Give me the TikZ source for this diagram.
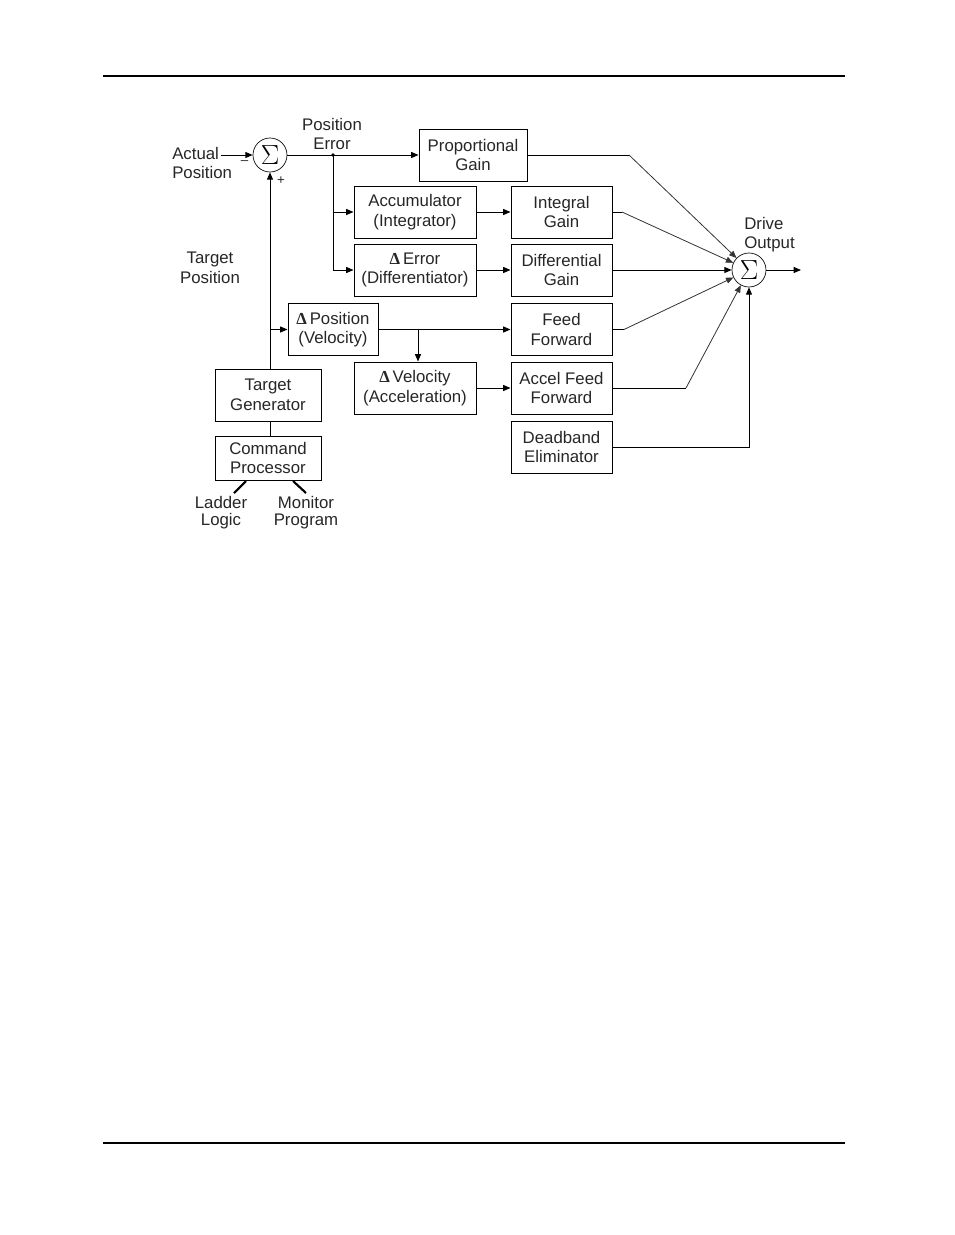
\documentclass[tikz,border=0pt]{standalone}
\usepackage{fontspec}
\setmainfont{Liberation Sans}
\newfontfamily\serifd{Liberation Serif}
\usetikzlibrary{arrows.meta}
\newcommand{\dlt}{{\serifd\bfseries Δ}}
\begin{document}
\begin{tikzpicture}[x=0.75pt,y=-0.75pt,
  txt/.style={font=\fontsize{12.6}{14.6}\selectfont, align=center, text=black!85, inner sep=0pt},
  blk/.style={draw, line width=0.75pt, inner sep=0pt, font=\fontsize{12.6}{14.6}\selectfont, align=center, text=black!85, minimum height=39pt},
  wA/.style={minimum width=75.75pt},
  wB/.style={minimum width=91.5pt},
  sumnode/.style={draw, circle, line width=0.5pt, minimum size=25.5pt, inner sep=0pt, font=\fontsize{20}{20}\selectfont},
  con/.style={line width=0.7pt},
  arr/.style={line width=0.7pt, -{Triangle[length=5.5pt,width=4.5pt]}},
  diag/.style={line width=0.6pt, black!80, -{Triangle[length=5.5pt,width=4.5pt]}},
  thk/.style={line width=1.6pt}
]
\useasboundingbox (0,0) rectangle (954,1235);
% page rules
\draw[line width=1.1pt] (103,76) -- (845,76);
\draw[line width=1.1pt] (103,1143) -- (845,1143);

% summing junctions
\node[sumnode] (s1) at (270,155) {$\Sigma$};
\node[sumnode] (s2) at (749,270) {$\Sigma$};

% boxes
\node[blk, minimum width=81pt] (PG) at (473,155) {Proportional\\Gain};
\node[blk, wB] (Acc) at (415,212) {Accumulator\\(Integrator)};
\node[blk, wB] (dErr) at (415,270) {\dlt\,Error\\(Differentiator)};
\node[blk, wA] (IG) at (561.5,212) {Integral\\Gain};
\node[blk, wA] (DG) at (561.5,270) {Differential\\Gain};
\node[blk, wA] (FF) at (561.5,329.5) {Feed\\Forward};
\node[blk, wA] (AFF) at (561.5,388) {Accel Feed\\Forward};
\node[blk, wA] (DE) at (561.5,447) {Deadband\\Eliminator};
\node[blk, minimum width=67.5pt] (dPos) at (333,329.5) {\dlt\,Position\\(Velocity)};
\node[blk, wB] (dVel) at (415,388) {\dlt\,Velocity\\(Acceleration)};
\node[blk, minimum width=79.5pt] (TG) at (268,395) {Target\\Generator};
\node[blk, minimum width=79.5pt, minimum height=33pt] (CP) at (268,458) {Command\\Processor};

% labels
\node[txt, align=left, anchor=west] (actual) at (172,163) {Actual\\Position};
\node[txt] (perr) at (332,134) {Position\\Error};
\node[txt] (tpos) at (210,268) {Target\\Position};
\node[txt, align=left, anchor=west] (drive) at (744,234.5) {Drive\\Output};
\node[txt, font=\fontsize{12.6}{12.8}\selectfont] (ladder) at (221,512.5) {Ladder\\Logic};
\node[txt, font=\fontsize{12.6}{12.8}\selectfont] (monitor) at (306,512.5) {Monitor\\Program};
\node[txt, font=\fontsize{10}{10}\selectfont] (minus) at (244.5,163) {\textendash};
\node[txt, font=\fontsize{10}{10}\selectfont] (plus) at (281,181) {+};

% coordinates
\coordinate (ain) at (221,155);
\coordinate (j1) at (333,155);
\coordinate (pgk) at (629,155);
\coordinate (igk) at (622,212);
\coordinate (ffk) at (624,329.5);
\coordinate (affk) at (686,388);
\coordinate (jt) at (270,329.5);
\coordinate (jv) at (418,329.5);
\coordinate (out) at (801,270);
\coordinate (cpl) at (246,481);
\coordinate (cpr) at (293,481);
\coordinate (lle) at (234,493);
\coordinate (mpe) at (306,493);

% connectors
\draw[arr] (ain) -- (s1.west);
\draw[arr] (s1.east) -- (PG.west);
\fill (j1) circle (1.4pt);
\draw[arr] (j1) |- (Acc.west);
\draw[arr] (j1) |- (dErr.west);
\draw[arr] (Acc.east) -- (IG.west);
\draw[arr] (dErr.east) -- (DG.west);

\draw[con] (PG.east) -- (pgk);
\draw[diag] (pgk) -- (s2);
\draw[con] (IG.east) -- (igk);
\draw[diag] (igk) -- (s2);
\draw[arr] (DG.east) -- (s2.west);
\draw[con] (FF.east) -- (ffk);
\draw[diag] (ffk) -- (s2);
\draw[con] (AFF.east) -- (affk);
\draw[diag] (affk) -- (s2);
\draw[arr] (DE.east) -| (s2.south);
\draw[arr] (s2.east) -- (out);

\draw[arr] (s1 |- TG.north) -- (s1.south);
\draw[arr] (jt) -- (dPos.west);
\draw[arr] (dPos.east) -- (FF.west);
\draw[arr] (jv) -- (jv |- dVel.north);
\draw[arr] (dVel.east) -- (AFF.west);
\draw[con] (s1 |- TG.south) -- (s1 |- CP.north);
\draw[thk] (cpl) -- (lle);
\draw[thk] (cpr) -- (mpe);
\end{tikzpicture}
\end{document}
